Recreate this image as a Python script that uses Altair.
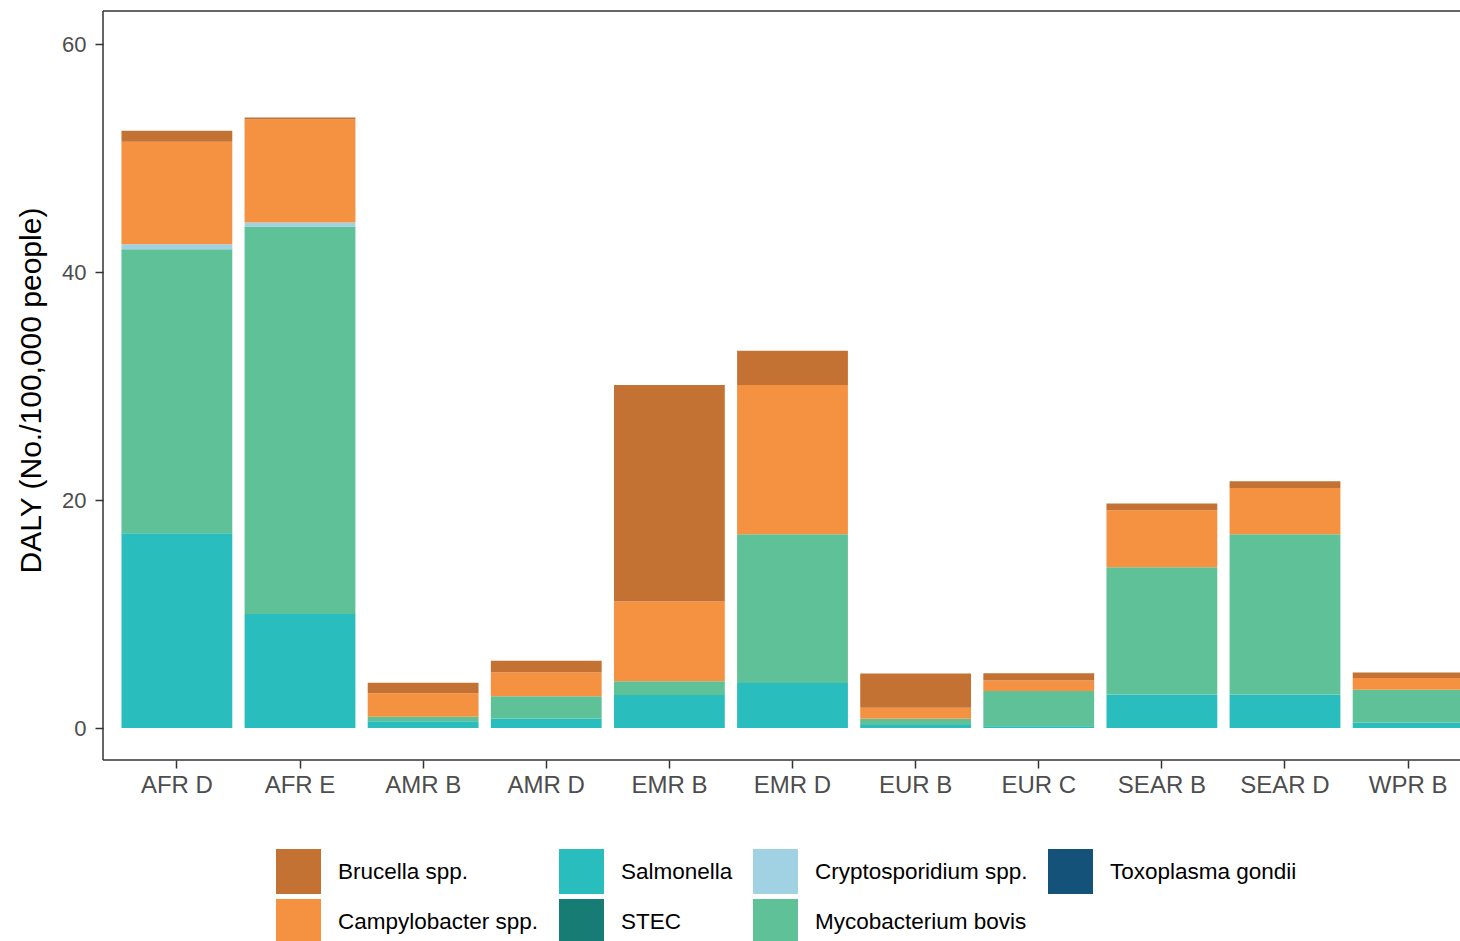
import altair as alt
import pandas as pd

regions = ["AFR D", "AFR E", "AMR B", "AMR D", "EMR B", "EMR D",
           "EUR B", "EUR C", "SEAR B", "SEAR D", "WPR B"]
salmonella = [17.1, 10.0, 0.6, 0.85, 2.9, 3.95, 0.26, 0.17, 2.95, 2.95, 0.5]
mycobacterium = [24.9, 34.0, 0.4, 1.95, 1.2, 13.05, 0.56, 3.08, 11.15, 14.05, 2.86]
cryptosporidium = [0.44, 0.35, 0, 0, 0, 0, 0, 0, 0, 0, 0]
campylobacter = [9.0, 9.03, 2.05, 2.1, 7.0, 13.1, 0.96, 0.93, 5.0, 4.05, 1.03]
brucella = [0.96, 0.18, 0.93, 1.0, 19.0, 3.0, 3.0, 0.62, 0.6, 0.6, 0.49]

# legend order (filled column by column, two rows)
legend_order = ["Brucella spp.", "Campylobacter spp.", "Salmonella", "STEC",
                "Cryptosporidium spp.", "Mycobacterium bovis", "Toxoplasma gondii"]
legend_colors = ["#C47233", "#F59241", "#2ABDBD", "#167C74",
                 "#A0D2E4", "#5EC197", "#14527A"]
# stacking order, bottom to top
stack_rank = {"Salmonella": 0, "STEC": 1, "Mycobacterium bovis": 2,
              "Cryptosporidium spp.": 3, "Toxoplasma gondii": 4,
              "Campylobacter spp.": 5, "Brucella spp.": 6}

series = {
    "Salmonella": salmonella,
    "Mycobacterium bovis": mycobacterium,
    "Cryptosporidium spp.": cryptosporidium,
    "Campylobacter spp.": campylobacter,
    "Brucella spp.": brucella,
}

rows = []
for pathogen, vals in series.items():
    for r, v in zip(regions, vals):
        rows.append({"region": r, "pathogen": pathogen, "daly": v,
                     "rank": stack_rank[pathogen]})
df = pd.DataFrame(rows)

FONT = "Liberation Sans"
W, H = 1357, 749

bars = alt.Chart(df).mark_bar(clip=True).encode(
    x=alt.X("region:N", sort=regions,
            scale=alt.Scale(range=[0, 1379], paddingInner=0.1, paddingOuter=0.15),
            axis=alt.Axis(title=None, labelAngle=0, labelFontSize=24, labelColor="#4d4d4d",
                          labelFont=FONT, tickSize=8, tickColor="#333333", tickWidth=1.5,
                          domain=False, labelPadding=5)),
    y=alt.Y("sum(daly):Q", stack="zero",
            scale=alt.Scale(domain=[-2.8, 62.9], nice=False, zero=False),
            axis=alt.Axis(title="DALY (No./100,000 people)", values=[0, 20, 40, 60],
                          grid=False, domain=False, labelFontSize=22, labelColor="#4d4d4d",
                          labelFont=FONT, tickSize=8, tickColor="#333333", tickWidth=1.5,
                          labelPadding=9, titleFont=FONT, titleFontSize=30,
                          titleFontWeight="normal", titleColor="#000000",
                          titleX=-72, titleY=379, titleAngle=270,
                          titleAlign="center", titleBaseline="middle")),
    color=alt.Color("pathogen:N",
                    scale=alt.Scale(domain=legend_order, range=legend_colors),
                    legend=alt.Legend(title=None, orient="none", legendX=173, legendY=838,
                                      columns=4, symbolType="square", symbolSize=2025,
                                      symbolStrokeWidth=0, symbolOpacity=1,
                                      labelFontSize=22.5, labelFont=FONT,
                                      labelColor="#000000", labelOffset=17,
                                      columnPadding=20, rowPadding=5, padding=0,
                                      labelLimit=400)),
    order=alt.Order("rank:Q", sort="ascending"),
)

frame_df = pd.DataFrame({"k": [0]})
border_style = dict(color="#333333", strokeWidth=1.5)
top_line = alt.Chart(frame_df).mark_rule(**border_style).encode(
    x=alt.value(0), x2=alt.value(W + 5), y=alt.value(0))
bottom_line = alt.Chart(frame_df).mark_rule(**border_style).encode(
    x=alt.value(0), x2=alt.value(W + 5), y=alt.value(H))
left_line = alt.Chart(frame_df).mark_rule(**border_style).encode(
    x=alt.value(0), y=alt.value(0), y2=alt.value(H))

chart = alt.layer(bars, top_line, bottom_line, left_line).properties(
    width=W,
    height=H,
    autosize=alt.AutoSizeParams(type="none"),
    padding={"left": 103, "top": 11, "right": 0, "bottom": 181},
).configure_view(
    stroke=None
)

chart.save("out.html", embed_options={"renderer": "svg", "actions": False})
